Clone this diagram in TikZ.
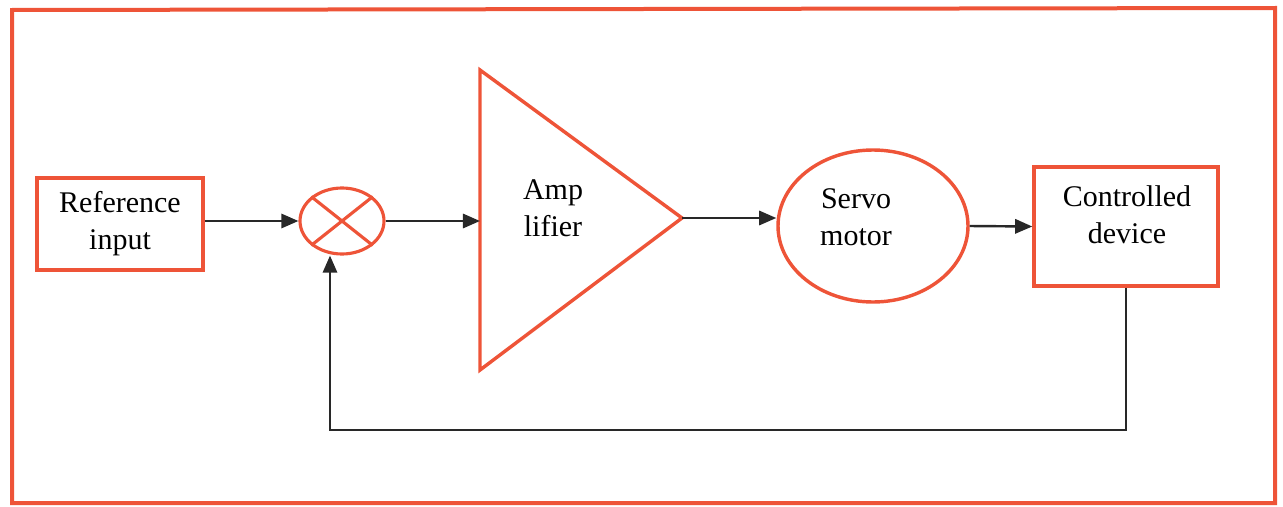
\documentclass[tikz,border=0pt]{standalone}
\usepackage{fontspec}
\setmainfont{Liberation Serif}
\usetikzlibrary{shapes.geometric,arrows.meta}
\definecolor{frameRed}{RGB}{238,84,56}
\definecolor{arrowGray}{RGB}{40,40,40}
\tikzset{
    blockbox/.style={draw=frameRed, line width=1.2pt, align=center, font=\fontsize{10.5}{13}\selectfont},
    blocktext/.style={align=center, font=\fontsize{10.5}{13}\selectfont},
    sumnode/.style={draw=frameRed, line width=1.1pt, ellipse, minimum width=29.4pt, minimum height=23.1pt, inner sep=0pt},
    sig/.style={draw=arrowGray, line width=0.85pt, -{Triangle[length=6pt,width=5pt]}}
}
\begin{document}
\begin{tikzpicture}[x=0.35pt,y=-0.35pt]
    \useasboundingbox (0,0) rectangle (1283,507);
    % outer frame
    \draw[frameRed, line width=1.4pt] (12,10) -- (1275,8) -- (1275,503) -- (12,503) -- cycle;
    % blocks
    \node[blockbox, minimum width=58.1pt, minimum height=32.2pt] (refin) at (120,224) {Reference\\input};
    \node[sumnode] (sum) at (342,221) {};
    \draw[frameRed, line width=1.1pt] (sum.north east) -- (sum.south west)
                                      (sum.north west) -- (sum.south east);
    % amplifier
    \coordinate (ampin) at (480,218);
    \coordinate (ampout) at (682,218);
    \draw[frameRed, line width=1.2pt, line join=miter] (480,70) -- (ampout) -- (480,370) -- cycle;
    \node[blocktext] (amplabel) at (553,208) {Amp\\lifier};
    \node[draw=frameRed, line width=1.2pt, ellipse, minimum width=66.5pt, minimum height=53.2pt] (servo) at (873,226) {};
    \node[blocktext] (servolabel) at (856,217) {Servo\\motor};
    \node[draw=frameRed, line width=1.2pt, minimum width=64.4pt, minimum height=41.6pt] (device) at (1126,226.5) {};
    \node[blocktext] (devicelabel) at (1127,215) {Controlled\\device};
    % signal flow
    \draw[sig] (refin.east |- sum) -- (sum.west);
    \draw[sig] (sum.east) -- (sum.east -| ampin);
    \draw[sig] (ampout) -- (ampout -| servo.west);
    \draw[sig] (servo.east) -- (device.west);
    % feedback path
    \coordinate (fbturn) at (device.south |- 0,430);
    \coordinate (fbin) at ([xshift=-4.2pt]sum.south);
    \draw[sig] (device.south) -- (fbturn) -| (fbin);
\end{tikzpicture}
\end{document}
